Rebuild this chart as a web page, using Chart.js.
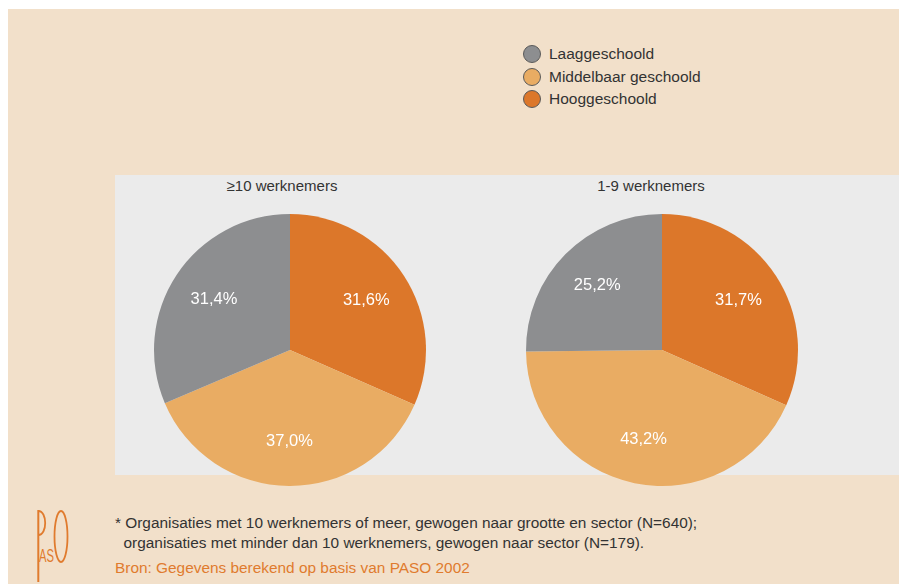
<!DOCTYPE html>
<html>
<head>
<meta charset="utf-8">
<script src="https://cdn.jsdelivr.net/npm/chart.js@4.4.1/dist/chart.umd.min.js"></script>
<style>
  html, body { margin:0; padding:0; background:#ffffff; }
  body { width:899px; height:584px; position:relative; overflow:hidden; font-family:"Liberation Sans", Arial, sans-serif; color:#333333; }
  #bg { position:absolute; left:8px; top:9px; width:891px; height:575px; background:#f2e0ca; }
  #panel { position:absolute; left:115px; top:175px; width:784px; height:300px; background:#ebebeb; }
  .title { position:absolute; top:177px; font-size:15px; line-height:18px; text-align:center; width:300px; color:#333; }
  .pie { position:absolute; width:280px; height:280px; top:210px; }
  #legend { position:absolute; left:523px; top:43px; }
  .li { height:22.5px; display:flex; align-items:center; font-size:15.5px; color:#333; }
  .dot { width:18px; height:18px; border-radius:50%; border:1px solid #5a5a5a; margin-right:8px; box-sizing:border-box; }
  #note { position:absolute; left:115px; top:513px; font-size:15.4px; line-height:20px; color:#333; white-space:pre; }
  #bron { position:absolute; left:115px; top:558px; font-size:15.4px; line-height:20px; color:#e07b2e; white-space:pre; }
  #logo { position:absolute; left:30px; top:505px; }
</style>
</head>
<body>
<div id="bg"></div>
<div id="panel"></div>
<div class="title" style="left:132px;">≥10 werknemers</div>
<div class="title" style="left:501px;">1-9 werknemers</div>
<div id="legend"></div>
<div class="pie" style="left:150px;"><canvas id="c1" width="280" height="280"></canvas></div>
<div class="pie" style="left:522px;"><canvas id="c2" width="280" height="280"></canvas></div>
<div id="note">* Organisaties met 10 werknemers of meer, gewogen naar grootte en sector (N=640);
  organisaties met minder dan 10 werknemers, gewogen naar sector (N=179).</div>
<div id="bron">Bron: Gegevens berekend op basis van PASO 2002</div>
<svg id="logo" width="50" height="80" viewBox="0 0 50 80">
  <line x1="8.3" y1="5" x2="8.3" y2="77" stroke="#e07b2e" stroke-width="2"/>
  <path d="M8.3 6 C17.5 6 17.5 30 8.3 30" fill="none" stroke="#e07b2e" stroke-width="1.8"/>
  <text x="9" y="57" font-family="Liberation Sans Narrow, Liberation Sans, Arial" font-size="19" fill="#e07b2e" textLength="15" lengthAdjust="spacingAndGlyphs">AS</text>
  <ellipse cx="31" cy="31.5" rx="6.5" ry="25.5" fill="none" stroke="#e07b2e" stroke-width="1.8"/>
</svg>
<script>
const categories = ['Laaggeschoold', 'Middelbaar geschoold', 'Hooggeschoold'];
const colors = ['#8d8e90', '#e9ac63', '#dc772a'];
const valuesGe10 = [31.4, 37.0, 31.6];
const valuesLt10 = [25.2, 43.2, 31.7];

// legend
const leg = document.getElementById('legend');
categories.forEach((c, i) => {
  const d = document.createElement('div'); d.className = 'li';
  const dot = document.createElement('span'); dot.className = 'dot'; dot.style.background = colors[i];
  const t = document.createElement('span'); t.textContent = c;
  d.appendChild(dot); d.appendChild(t); leg.appendChild(d);
});

const labelPlugin = {
  id: 'pctLabels',
  afterDatasetsDraw(chart) {
    const ctx = chart.ctx;
    const meta = chart.getDatasetMeta(0);
    const data = chart.data.datasets[0].data;
    ctx.save();
    ctx.fillStyle = '#ffffff';
    ctx.font = '16.5px "Liberation Sans", Arial, sans-serif';
    ctx.textAlign = 'center';
    ctx.textBaseline = 'middle';
    meta.data.forEach((arc, i) => {
      const p = arc.getProps(['x','y','startAngle','endAngle','outerRadius'], true);
      const mid = (p.startAngle + p.endAngle) / 2;
      const r = p.outerRadius * 0.67;
      ctx.fillText(data[i].toFixed(1).replace('.', ',') + '%', p.x + Math.cos(mid) * r, p.y + Math.sin(mid) * r);
    });
    ctx.restore();
  }
};

function makePie(id, values) {
  // draw clockwise from top: Hooggeschoold, Middelbaar, Laaggeschoold
  const order = [2, 1, 0];
  new Chart(document.getElementById(id), {
    type: 'pie',
    data: {
      labels: order.map(i => categories[i]),
      datasets: [{
        data: order.map(i => values[i]),
        backgroundColor: order.map(i => colors[i]),
        borderWidth: 0
      }]
    },
    options: {
      responsive: false,
      animation: false,
      layout: { padding: 4 },
      plugins: { legend: { display: false }, tooltip: { enabled: false } }
    },
    plugins: [labelPlugin]
  });
}
makePie('c1', valuesGe10);
makePie('c2', valuesLt10);
</script>
</body>
</html>
